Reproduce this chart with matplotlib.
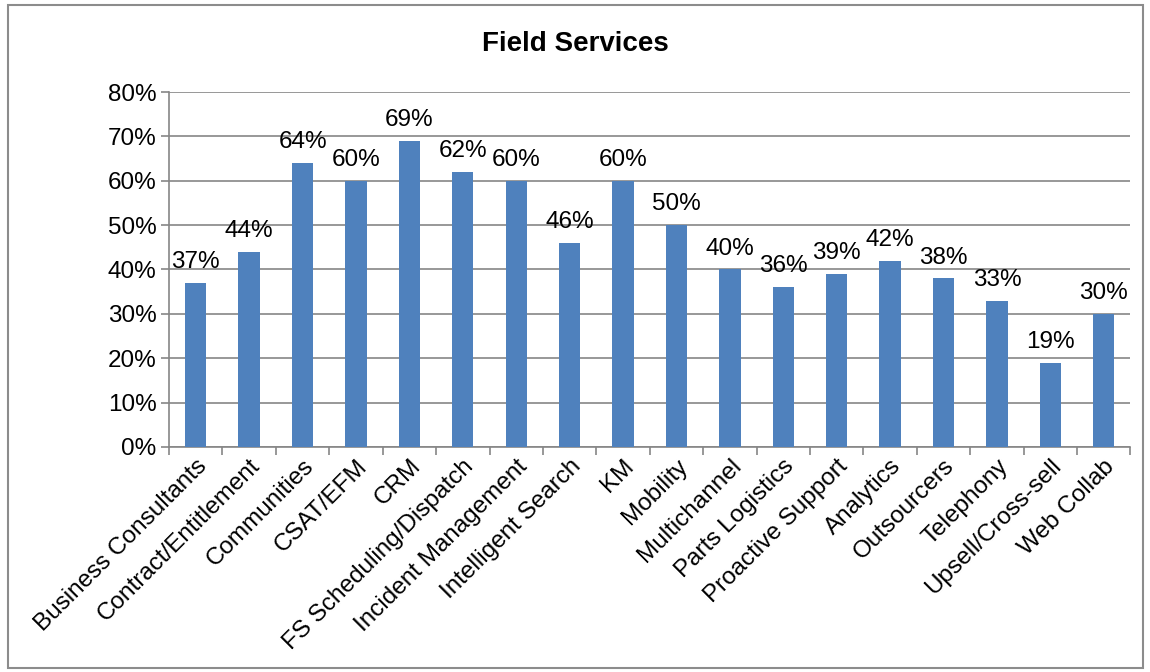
import matplotlib.pyplot as plt
from matplotlib.patches import Rectangle
from matplotlib.ticker import FuncFormatter

categories = ['Business Consultants', 'Contract/Entitlement', 'Communities',
              'CSAT/EFM', 'CRM', 'FS Scheduling/Dispatch', 'Incident Management',
              'Intelligent Search', 'KM', 'Mobility', 'Multichannel',
              'Parts Logistics', 'Proactive Support', 'Analytics', 'Outsourcers',
              'Telephony', 'Upsell/Cross-sell', 'Web Collab']
values = [37, 44, 64, 60, 69, 62, 60, 46, 60, 50, 40, 36, 39, 42, 38, 33, 19, 30]
y_ticks = [0, 10, 20, 30, 40, 50, 60, 70, 80]

plt.rcParams['font.family'] = ['Liberation Sans', 'DejaVu Sans']
fs = 17.5

fig = plt.figure(figsize=(11.5, 6.72), dpi=100)
ax = fig.add_axes([0.147, 0.335, 0.836, 0.528])

# outer frame like the spreadsheet chart area
fig.patches.append(Rectangle((0.007, 0.006), 0.987, 0.987, transform=fig.transFigure,
                             fill=False, edgecolor='#8c8c8c', linewidth=1.5))

x = range(len(categories))
ax.bar(x, values, width=0.4, color='#4F81BD', zorder=3)

for xi, v in zip(x, values):
    ax.annotate(f'{v}%', (xi, v), xytext=(0, 7), textcoords='offset points',
                ha='center', va='bottom', fontsize=fs)

ax.set_xlim(-0.5, len(categories) - 0.5)
ax.set_ylim(0, 80)
ax.set_yticks(y_ticks)
ax.yaxis.set_major_formatter(FuncFormatter(lambda v, _: f'{v:.0f}%'))
ax.grid(axis='y', color='#868686', linewidth=1.2, zorder=0)

ax.set_xticks([i + 0.5 for i in range(-1, len(categories))], minor=False)
ax.set_xticklabels([])
ax.set_xticks(list(x), minor=True)
ax.set_xticklabels(categories, minor=True, rotation=45, ha='right',
                   rotation_mode='anchor', fontsize=fs)
ax.tick_params(axis='x', which='minor', length=0, pad=6)
ax.tick_params(axis='x', which='major', length=6, color='#868686', width=1.2)
ax.tick_params(axis='y', length=6, color='#868686', width=1.2, labelsize=fs, pad=3)

for s in ['top', 'right']:
    ax.spines[s].set_visible(False)
for s in ['left', 'bottom']:
    ax.spines[s].set_color('#868686')
    ax.spines[s].set_linewidth(1.2)

fig.text(0.5, 0.935, 'Field Services', ha='center', va='center',
         fontsize=20, fontweight='bold')

fig.savefig('out.png', dpi=100)
